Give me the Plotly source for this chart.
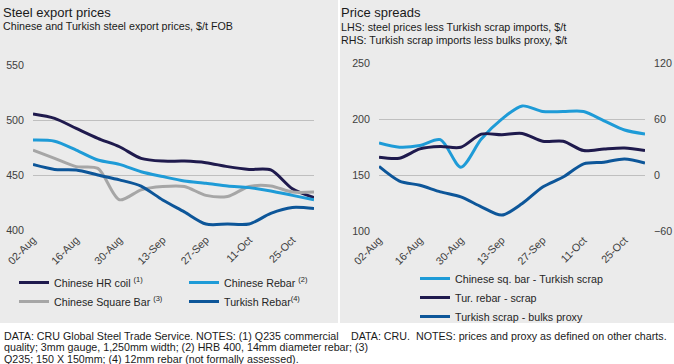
import plotly.graph_objects as go

W, H = 674, 364

# ---------------- data ----------------
dates = ["2021-08-02", "2021-08-09", "2021-08-16", "2021-08-23", "2021-08-30",
         "2021-09-06", "2021-09-13", "2021-09-20", "2021-09-27", "2021-10-04",
         "2021-10-11", "2021-10-18", "2021-10-25", "2021-11-01"]
tick_dates = ["2021-08-02", "2021-08-16", "2021-08-30", "2021-09-13",
              "2021-09-27", "2021-10-11", "2021-10-25"]
tick_labels = ["02-Aug", "16-Aug", "30-Aug", "13-Sep", "27-Sep", "11-Oct", "25-Oct"]

hr_coil = [505.6, 501.7, 492.6, 483.6, 476, 465.5, 463, 463, 461.6, 458, 455.5, 455, 438, 430]
cn_rebar = [482, 481, 473, 464, 460, 453.4, 449, 445, 443, 440.5, 439, 436, 432, 428]
sq_bar = [473, 465.5, 458, 456.4, 428, 437, 440, 440, 432, 431, 440, 440.5, 435, 435]
tr_rebar = [460, 455.5, 455, 450.4, 446, 440.4, 427.8, 417, 406, 406, 406, 415.7, 421, 420]

sq_spread = [178.8, 175, 176.5, 181.8, 157.2, 182.4, 200.2, 212, 207, 207, 207, 198.7, 190.4, 186.8]
rebar_spread = [166, 165.2, 173.5, 175.6, 175, 186.8, 186.3, 187.4, 180.3, 180.3, 172, 173.5, 174.4, 172]
proxy_spread = [9.4, -6.3, -10.9, -18, -23.4, -34, -42.9, -30.5, -12.7, -2, 12.2, 14, 17.5, 13]

left_yticks = [400, 450, 500, 550]
right_yticks = [100, 150, 200, 250]
right_y2ticks = [-60, 0, 60, 120]

NAVY = "#1f1a4d"
LBLUE = "#1e9bd7"
GREY = "#a6a6a6"
MBLUE = "#0d5699"
BG = "#ebebeb"
FONT = "Liberation Sans, Arial, sans-serif"
FS = 10.7

fig = go.Figure()

def line(x, y, name, color, xaxis, yaxis, legend):
    fig.add_trace(go.Scatter(
        x=x, y=y, name=name, mode="lines",
        line=dict(color=color, width=3, shape="spline", smoothing=0.8),
        xaxis=xaxis, yaxis=yaxis, legend=legend))

# left chart
line(dates, hr_coil, "Chinese HR coil <sup>(1)</sup>", NAVY, "x", "y", "legend")
line(dates, sq_bar, "Chinese Square Bar <sup>(3)</sup>", GREY, "x", "y", "legend")
line(dates, cn_rebar, "Chinese Rebar <sup>(2)</sup>", LBLUE, "x", "y", "legend2")
line(dates, tr_rebar, "Turkish Rebar<sup>(4)</sup>", MBLUE, "x", "y", "legend2")

# right chart
line(dates, sq_spread, "Chinese sq. bar - Turkish scrap", LBLUE, "x2", "y2", "legend3")
line(dates, rebar_spread, "Tur. rebar - scrap", NAVY, "x2", "y2", "legend3")
line(dates, proxy_spread, "Turkish scrap - bulks proxy", MBLUE, "x2", "y3", "legend3")

def px(x):
    return x / W

def py(y):
    return 1 - y / H

tickfont = dict(family=FONT, size=FS, color="#404040")
xcommon = dict(type="date", range=[dates[0], dates[-1]], tickvals=tick_dates,
               ticktext=tick_labels, tickangle=-45, showgrid=False, zeroline=False,
               showline=False, ticks="", tickfont=tickfont, fixedrange=True,
               automargin=False)
ycommon = dict(showgrid=True, gridcolor="#bfbfbf", gridwidth=1, zeroline=False,
               showline=False, ticks="", tickfont=tickfont, ticklabelstandoff=8,
               fixedrange=True, automargin=False)

legfont = dict(family=FONT, size=FS, color="#262626")
legcommon = dict(bgcolor="rgba(0,0,0,0)", font=legfont, orientation="v",
                 xanchor="left", yanchor="top", tracegroupgap=0, itemclick=False)

fig.update_layout(
    template="none",
    width=W, height=H,
    margin=dict(l=0, r=0, t=0, b=0, pad=0, autoexpand=False),
    paper_bgcolor="white", plot_bgcolor="rgba(0,0,0,0)",
    font=dict(family=FONT, size=FS, color="#262626"),
    xaxis=dict(domain=[px(33), px(314)], anchor="y", **xcommon),
    yaxis=dict(domain=[py(230.7), py(65)], range=[400, 550], tickvals=left_yticks,
               anchor="x", **ycommon),
    xaxis2=dict(domain=[px(379), px(645)], anchor="y2", **xcommon),
    yaxis2=dict(domain=[py(231), py(63.5)], range=[100, 250], tickvals=right_yticks,
                anchor="x2", **ycommon),
    yaxis3=dict(range=[-60, 120], tickvals=right_y2ticks, overlaying="y2", side="right",
                anchor="x2", showgrid=False, zeroline=False, showline=False, ticks="",
                tickfont=tickfont, ticklabelstandoff=8, fixedrange=True, automargin=False),
    legend=dict(x=px(14), y=py(268), **legcommon),
    legend2=dict(x=px(184), y=py(268), **legcommon),
    legend3=dict(x=px(415), y=py(264), **legcommon),
    shapes=[
        dict(type="rect", xref="paper", yref="paper", x0=0, x1=px(338), y0=py(323), y1=1,
             fillcolor=BG, line=dict(width=0), layer="below"),
        dict(type="rect", xref="paper", yref="paper", x0=px(340), x1=1, y0=py(323), y1=1,
             fillcolor=BG, line=dict(width=0), layer="below"),
    ],
)

def note(x, y, text, size=FS, color="#1a1a1a"):
    fig.add_annotation(x=px(x), y=py(y), xref="paper", yref="paper", text=text,
                       showarrow=False, xanchor="left", yanchor="middle",
                       font=dict(family=FONT, size=size, color=color))

note(1, 12.5, "Steel export prices", size=13)
note(1, 26.5, "Chinese and Turkish steel export prices, $/t FOB")
note(339, 12.5, "Price spreads", size=13)
note(339, 27, "LHS: steel prices less Turkish scrap imports, $/t")
note(339, 39.5, "RHS: Turkish scrap imports less bulks proxy, $/t")

note(2, 335.5, "DATA: CRU Global Steel Trade Service. NOTES: (1) Q235 commercial")
note(2, 347, "quality; 3mm gauge, 1,250mm width; (2) HRB 400, 14mm diameter rebar; (3)")
note(2, 358.5, "Q235; 150 X 150mm; (4) 12mm rebar (not formally assessed).")
note(349, 335.5, "DATA: CRU.  NOTES: prices and proxy as defined on other charts.")

fig.write_html(
    "out.html",
    config=dict(displayModeBar=False),
    post_script="document.body.style.margin='0';document.body.style.padding='0';"
                "document.body.style.overflow='hidden';",
)
